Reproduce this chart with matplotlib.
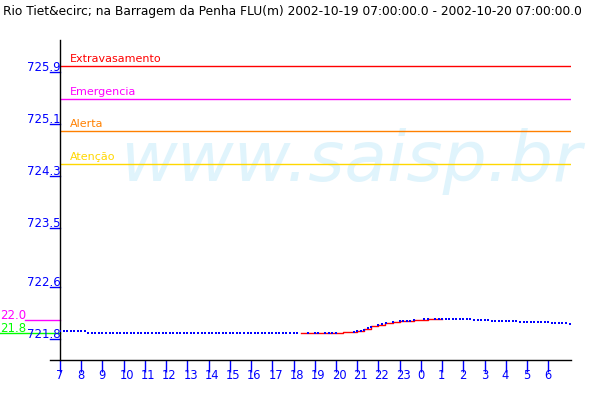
import matplotlib
matplotlib.use('Agg')
import matplotlib.pyplot as plt
import numpy as np
from matplotlib.transforms import offset_copy, blended_transform_factory

nan = float('nan')

title = "Rio Tiet&ecirc; na Barragem da Penha FLU(m) 2002-10-19 07:00:00.0 - 2002-10-20 07:00:00.0"
hour_labels = [7, 8, 9, 10, 11, 12, 13, 14, 15, 16, 17, 18, 19, 20, 21, 22, 23, 0, 1, 2, 3, 4, 5, 6]

ytick_values = [725.9, 725.1, 724.3, 723.5, 722.6, 721.8]
ytick_labels = ["725.9", "725.1", "724.3", "723.5", "722.6", "721.8"]

threshold_names = ["Extravasamento", "Emergencia", "Alerta", "Atenção"]
threshold_values = [725.9, 725.4, 724.9, 724.4]
threshold_colors = ["#ff0000", "#ff00ff", "#ff8000", "#ffd700"]

side_labels = ["22.0", "21.8"]
side_values = [722.0, 721.8]
side_colors = ["#ff00ff", "#00ff00"]

# 10-minute readings from 2002-10-19 07:00 to 2002-10-20 07:00 (m)
level = [
    721.82, 721.82, 721.82, 721.82, 721.82, 721.82, 721.82, 721.82, 721.80, 721.80, 721.80, 721.80,
    721.80, 721.80, 721.80, 721.80, 721.80, 721.80, 721.80, 721.80, 721.80, 721.80, 721.80, 721.80,
    721.80, 721.80, 721.80, 721.80, 721.80, 721.80, 721.80, 721.80, 721.80, 721.80, 721.80, 721.80,
    721.80, 721.80, 721.80, 721.80, 721.80, 721.80, 721.80, 721.80, 721.80, 721.80, 721.80, 721.80,
    721.80, 721.80, 721.80, 721.80, 721.80, 721.80, 721.80, 721.80, 721.80, 721.80, 721.80, 721.80,
    721.80, 721.80, 721.80, 721.80, 721.80, 721.80, 721.80, 721.80, nan, nan, 721.80, nan,
    721.80, 721.80, nan, 721.80, 721.80, 721.80, 721.80, nan, nan, nan, nan, 721.81,
    721.82, 721.83, 721.84, 721.87, 721.88, nan, 721.92, 721.93, 721.95, nan, 721.96, nan,
    721.98, 721.98, 721.98, 721.98, 721.99, nan, nan, 722.01, 722.01, nan, 722.01, 722.01,
    722.01, 722.01, 722.01, 722.01, 722.01, 722.01, 722.01, 722.01, 722.01, 721.99, 721.99, 721.99,
    721.99, 721.99, 721.98, 721.98, 721.98, 721.98, 721.98, 721.98, 721.98, 721.98, 721.96, 721.96,
    721.96, 721.96, 721.96, 721.96, 721.96, 721.96, 721.96, 721.95, 721.95, 721.95, 721.95, 721.95,
    721.93,
]
level_hours = np.arange(len(level)) / 6.0

# second (red) series, hours after 07:00
red_hours = [11.33, 11.67, 12.0, 12.33, 12.67, 13.0, 13.33, 13.67, 14.0, 14.33, 14.67,
             15.0, 15.33, 15.67, 16.0, 16.33, 16.67, 17.0, 17.33, 17.67, 18.0]
red_values = [721.80, 721.80, 721.80, 721.80, 721.80, 721.80, 721.81, 721.81, 721.83, 721.86, 721.90,
              721.92, 721.94, 721.96, 721.97, 721.98, 721.99, 722.00, 722.01, 722.01, 722.01]

fig = plt.figure(figsize=(6, 4), dpi=100)
fig.patch.set_facecolor('white')
ax = fig.add_axes([60 / 600, 40 / 400, 511 / 600, 320 / 400])
ax.set_xlim(0, 24.07)
ax.set_ylim(721.377, 726.30)

for s in ['top', 'right', 'bottom']:
    ax.spines[s].set_visible(False)
ax.spines['left'].set_linewidth(1.0)
ax.spines['left'].set_color('black')

# bottom axis line (extends a bit left of the y axis)
ax.plot([-10 / 511, 1.0], [0, 0], color='black', lw=1.0, transform=ax.transAxes, clip_on=False, zorder=5)

# watermark
ax.text(120 / 600, (400 - 181) / 400, "www.saisp.br", transform=fig.transFigure, fontsize=50,
        style='italic', color='#e0f4fc', ha='left', va='baseline', zorder=0)

# thresholds
ytrans = ax.get_yaxis_transform()
for name, val, col in zip(threshold_names, threshold_values, threshold_colors):
    ax.axhline(val, color=col, lw=1.0, zorder=2)
    ax.text(10 / 511, val, name, color=col, fontsize=8, ha='left', va='baseline',
            transform=offset_copy(ytrans, fig=fig, x=0, y=4, units='dots'))

# side reference marks
for lab, val, col, x0 in zip(side_labels, side_values, side_colors, [-35 / 511, -60 / 511]):
    ax.plot([x0, 0], [val, val], color=col, lw=1.0, transform=ytrans, clip_on=False)
    ax.text(-60 / 511, val, lab, color=col, fontsize=8.5, ha='left', va='baseline',
            transform=offset_copy(ytrans, fig=fig, x=0, y=1, units='dots'))

# y ticks (drawn manually)
ax.set_yticks([])
for val, lab in zip(ytick_values, ytick_labels):
    tr = offset_copy(ytrans, fig=fig, x=0, y=-6, units='dots')
    ax.plot([-10 / 511, 0], [val, val], color='#0000ff', lw=1.0, transform=tr, clip_on=False)
    ax.text(1 / 511, val, lab, color='#0000ff', fontsize=8.5, ha='right', va='baseline',
            transform=offset_copy(ytrans, fig=fig, x=0, y=-5, units='dots'))

# x ticks
hours = np.arange(len(hour_labels))
ax.set_xticks(hours)
ax.tick_params(axis='x', direction='out', length=8.6, width=1.0, color='#0000ff', labelbottom=False)
xtrans = ax.get_xaxis_transform()
for h, lab in zip(hours, hour_labels):
    ax.text(h, 0, str(lab), color='#0000ff', fontsize=8.3, ha='left', va='top',
            transform=offset_copy(xtrans, fig=fig, x=-4, y=-9, units='dots'))

# data
ax.plot(red_hours, red_values, color='#ff0000', lw=1.0, drawstyle='steps-post', zorder=3)
ax.plot(level_hours, level, 's', color='#0000ff', ms=2.0, mew=0, zorder=4)

fig.text(3 / 600, 1 - 15 / 400, title, fontsize=8.8, color='black', ha='left', va='baseline')

fig.savefig('out.png', dpi=100, facecolor='white')
